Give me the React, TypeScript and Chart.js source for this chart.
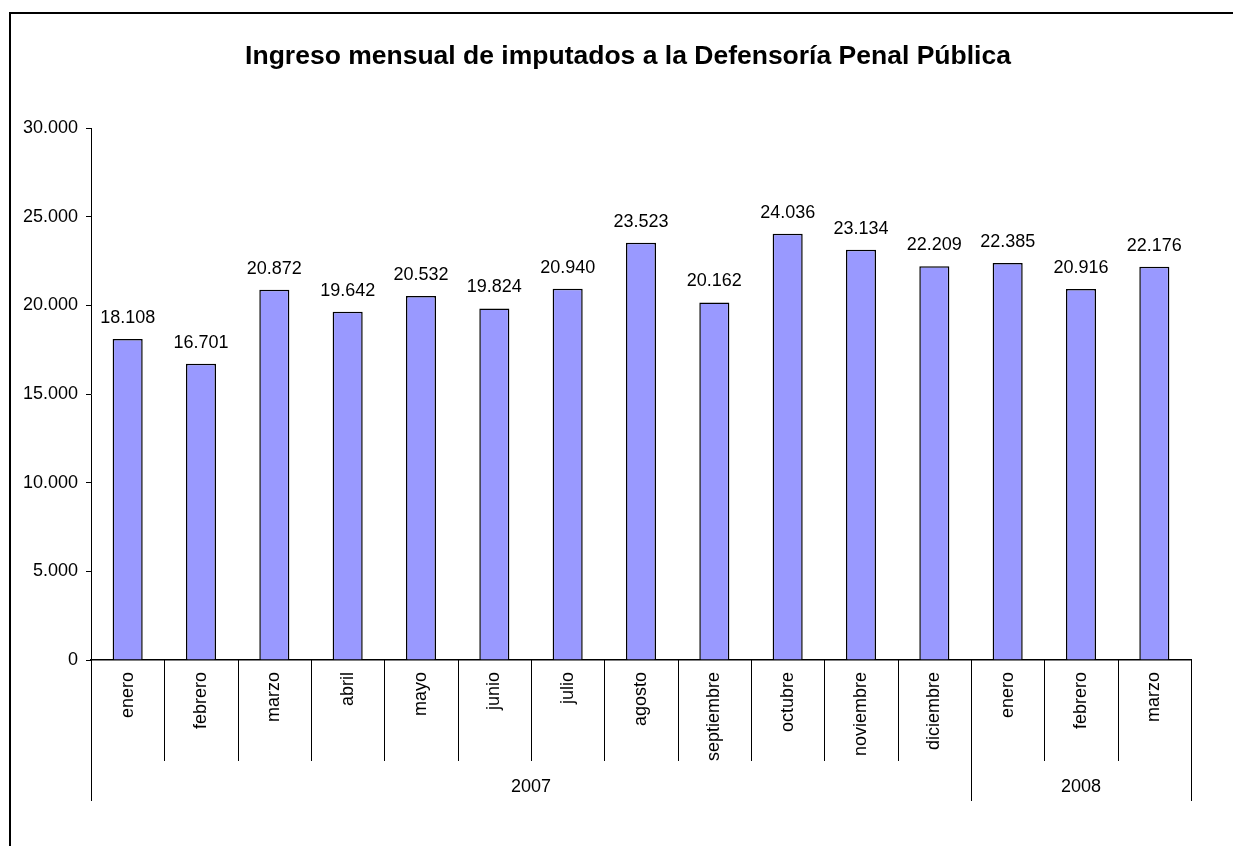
import React, { useEffect, useRef } from "react";
import { Chart, registerables } from "chart.js";

Chart.register(...registerables);

const TITLE = "Ingreso mensual de imputados a la Defensoría Penal Pública";
const MONTHS = [
  "enero", "febrero", "marzo", "abril", "mayo", "junio", "julio", "agosto",
  "septiembre", "octubre", "noviembre", "diciembre", "enero", "febrero", "marzo",
];
const VALUES = [
  18108, 16701, 20872, 19642, 20532, 19824, 20940, 23523,
  20162, 24036, 23134, 22209, 22385, 20916, 22176,
];
const YEARS = ["2007", "2008"];
const YEAR_SPANS = [12, 3];
const Y_MIN = 0;
const Y_MAX = 30000;
const Y_STEP = 5000;

const FONT = "'Liberation Sans', Arial, sans-serif";

function fmt(n: number): string {
  return Math.round(n).toString().replace(/\B(?=(\d{3})+(?!\d))/g, ".");
}

const decorPlugin = {
  id: "decor",
  beforeDraw(chart: any) {
    const ctx = chart.ctx;
    ctx.save();
    ctx.fillStyle = "#fff";
    ctx.fillRect(0, 0, chart.width, chart.height);
    // outer frame
    ctx.strokeStyle = "#000";
    ctx.lineWidth = 2;
    ctx.beginPath();
    ctx.moveTo(10, chart.height + 5);
    ctx.lineTo(10, 13);
    ctx.lineTo(chart.width + 5, 13);
    ctx.stroke();
    // title
    ctx.fillStyle = "#000";
    ctx.font = `bold 26.5px ${FONT}`;
    ctx.textAlign = "center";
    ctx.textBaseline = "alphabetic";
    ctx.fillText(TITLE, 628, 64);
    ctx.restore();
  },
  afterDraw(chart: any) {
    const ctx = chart.ctx;
    const xs = chart.scales.x;
    const area = chart.chartArea;
    const n = MONTHS.length;
    const w = (area.right - area.left) / n;
    const y0 = area.bottom;
    ctx.save();
    ctx.strokeStyle = "#000";
    ctx.lineWidth = 1;
    // year boundaries
    const yearBounds = [0];
    let acc = 0;
    YEAR_SPANS.forEach((s) => { acc += s; yearBounds.push(acc); });
    for (let i = 0; i <= n; i++) {
      const x = Math.round(xs.left + i * w) + 0.5;
      const long = yearBounds.includes(i);
      ctx.beginPath();
      ctx.moveTo(x, y0);
      ctx.lineTo(x, long ? y0 + 141 : y0 + 101);
      ctx.stroke();
    }
    // year labels
    ctx.fillStyle = "#000";
    ctx.font = `18px ${FONT}`;
    ctx.textAlign = "center";
    ctx.textBaseline = "middle";
    for (let j = 0; j < YEARS.length; j++) {
      const a = xs.left + yearBounds[j] * w;
      const b = xs.left + yearBounds[j + 1] * w;
      ctx.fillText(YEARS[j], (a + b) / 2, y0 + 127);
    }
    ctx.restore();
  },
  afterDatasetsDraw(chart: any) {
    const ctx = chart.ctx;
    const meta = chart.getDatasetMeta(0);
    ctx.save();
    ctx.fillStyle = "#000";
    ctx.font = `18px ${FONT}`;
    ctx.textAlign = "center";
    ctx.textBaseline = "alphabetic";
    meta.data.forEach((el: any, i: number) => {
      ctx.fillText(fmt(VALUES[i]), el.x, el.y - 16);
    });
    ctx.restore();
  },
};

export default function App() {
  const ref = useRef<HTMLCanvasElement>(null);
  useEffect(() => {
    if (!ref.current) return;
    const chart = new Chart(ref.current, {
      type: "bar",
      data: {
        labels: MONTHS,
        datasets: [
          {
            data: VALUES,
            backgroundColor: "#9999FF",
            borderColor: "#000",
            borderWidth: 1.5,
            barPercentage: 0.41,
            categoryPercentage: 1,
          },
        ],
      },
      options: {
        responsive: false,
        animation: false,
        layout: { padding: { top: 128, right: 42, bottom: 0, left: 0 } },
        plugins: {
          legend: { display: false },
          title: { display: false },
          tooltip: { enabled: false },
        },
        scales: {
          x: {
            grid: { display: false, drawTicks: false },
            border: { display: true, color: "#000", width: 1.5 },
            ticks: {
              autoSkip: false,
              maxRotation: 90,
              minRotation: 90,
              padding: 12,
              color: "#000",
              font: { family: FONT, size: 18 },
            },
            afterFit(scale: any) {
              scale.height = 186;
            },
          },
          y: {
            min: Y_MIN,
            max: Y_MAX,
            grid: {
              drawOnChartArea: false,
              drawTicks: true,
              tickLength: 5,
              color: "#000",
            },
            border: { display: true, color: "#000", width: 1 },
            ticks: {
              stepSize: Y_STEP,
              padding: 8,
              color: "#000",
              font: { family: FONT, size: 18 },
              callback: (v: any) => fmt(Number(v)),
            },
            afterFit(scale: any) {
              scale.width = 91;
            },
          },
        },
      },
      plugins: [decorPlugin],
    });
    return () => chart.destroy();
  }, []);
  return (
    <div style={{ position: "absolute", left: 0, top: 0, width: 1233, height: 846 }}>
      <canvas ref={ref} width={1233} height={846} style={{ display: "block" }} />
    </div>
  );
}
